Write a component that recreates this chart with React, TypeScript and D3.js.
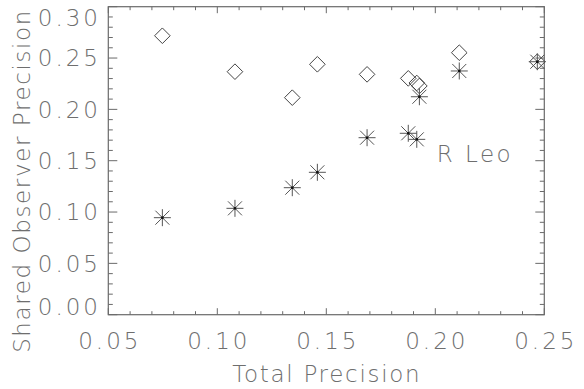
import React, { useEffect, useRef } from 'react';
import * as d3 from 'd3';

// Total precision (x) shared by both symbol series
const totalPrecision = [0.0748, 0.1081, 0.1344, 0.1459, 0.1687, 0.1876, 0.1915, 0.1927, 0.211, 0.2468];
// diamonds
const diamondValues = [0.2717, 0.2367, 0.2114, 0.2439, 0.2341, 0.2302, 0.2257, 0.2228, 0.2552, 0.2464];
// asterisks
const asteriskValues = [0.0945, 0.1036, 0.1237, 0.1387, 0.1724, 0.1767, 0.1708, 0.2123, 0.2374, 0.2464];

const xTicks = [0.05, 0.1, 0.15, 0.2, 0.25];
const yTicks = [0.0, 0.05, 0.1, 0.15, 0.2, 0.25, 0.3];

const W = 584;
const H = 389;
const FONT = '"DejaVu Sans", sans-serif';

const App = () => {
  const svgRef = useRef<SVGSVGElement>(null);

  useEffect(() => {
    const svg = d3.select(svgRef.current);
    svg.selectAll('*').remove();

    const left = 108.3, right = 544.3, top = 6.7, bottom = 314.7;
    const x = d3.scaleLinear().domain([0.05, 0.25]).range([left, right]);
    const y = d3.scaleLinear().domain([0, 0.3]).range([bottom, top]);
    const axisColor = '#6a6a6a';
    const textColor = '#6e6e6e';

    const g = svg.append('g');

    // frame
    g.append('rect')
      .attr('x', left).attr('y', top)
      .attr('width', right - left).attr('height', bottom - top)
      .attr('fill', 'none').attr('stroke', axisColor).attr('stroke-width', 1.2);

    // ticks (inside, all four sides)
    const xMinor = d3.range(0.05, 0.2501, 0.01);
    xMinor.forEach((v, i) => {
      const len = i % 5 === 0 ? 6.5 : 3.5;
      const px = x(v);
      g.append('line').attr('x1', px).attr('x2', px).attr('y1', bottom).attr('y2', bottom - len)
        .attr('stroke', axisColor).attr('stroke-width', 1);
      g.append('line').attr('x1', px).attr('x2', px).attr('y1', top).attr('y2', top + len)
        .attr('stroke', axisColor).attr('stroke-width', 1);
    });
    const yMinor = d3.range(0, 0.3001, 0.01);
    yMinor.forEach((v, i) => {
      const len = i % 5 === 0 ? 9 : 4.5;
      const py = y(v);
      g.append('line').attr('x1', left).attr('x2', left + len).attr('y1', py).attr('y2', py)
        .attr('stroke', axisColor).attr('stroke-width', 1);
      g.append('line').attr('x1', right).attr('x2', right - len).attr('y1', py).attr('y2', py)
        .attr('stroke', axisColor).attr('stroke-width', 1);
    });

    const textStyle = (sel: any, spacing: number) => sel
      .style('font-family', FONT).style('font-weight', 200).style('font-size', '23px')
      .style('letter-spacing', `${spacing}px`)
      .attr('fill', textColor);

    // tick labels
    textStyle(g.selectAll('.xl').data(xTicks).enter().append('text')
      .attr('x', d => x(d) + 1.5).attr('y', 349)
      .attr('text-anchor', 'middle'), 3)
      .text(d => d.toFixed(2));

    textStyle(g.selectAll('.yl').data(yTicks).enter().append('text')
      .attr('x', 101).attr('y', d => Math.max(18, Math.min(306.7, y(d))))
      .attr('dy', '0.36em')
      .attr('text-anchor', 'end'), 3)
      .text(d => d.toFixed(2));

    // axis titles
    textStyle(g.append('text')
      .attr('x', 326 + 0.8).attr('y', 381.5)
      .attr('text-anchor', 'middle'), 1.7)
      .text('Total Precision');

    textStyle(g.append('text')
      .attr('transform', 'translate(30,181) rotate(-90)')
      .attr('text-anchor', 'middle'), 1.6)
      .text('Shared Observer Precision');

    textStyle(g.append('text')
      .attr('x', 436.7).attr('y', 161.7), 2.5)
      .text('R Leo');

    // diamonds
    const dr = 7.8;
    g.selectAll('.dia').data(totalPrecision.map((t, i) => [t, diamondValues[i]])).enter()
      .append('path')
      .attr('d', d => {
        const cx = x(d[0]), cy = y(d[1]);
        return `M${cx},${cy - dr}L${cx + dr},${cy}L${cx},${cy + dr}L${cx - dr},${cy}Z`;
      })
      .attr('fill', 'none').attr('stroke', '#444').attr('stroke-width', 1);

    // asterisks
    const ar = 8.5;
    const ad = 7;
    const ast = g.selectAll('.ast').data(totalPrecision.map((t, i) => [t, asteriskValues[i]])).enter()
      .append('g')
      .attr('transform', d => `translate(${x(d[0])},${y(d[1])})`);
    ast.append('path')
      .attr('d', `M${-ar},0L${ar},0M0,${-ar}L0,${ar}M${-ad},${-ad}L${ad},${ad}M${-ad},${ad}L${ad},${-ad}`)
      .attr('fill', 'none').attr('stroke', '#555').attr('stroke-width', 1);
    ast.append('rect')
      .attr('x', -1.2).attr('y', -1.2).attr('width', 2.4).attr('height', 2.4)
      .attr('fill', '#111');
  }, []);

  return (
    <svg ref={svgRef} width={W} height={H}
      style={{ position: 'absolute', left: 0, top: 0, background: '#fff' }} />
  );
};

export default App;
